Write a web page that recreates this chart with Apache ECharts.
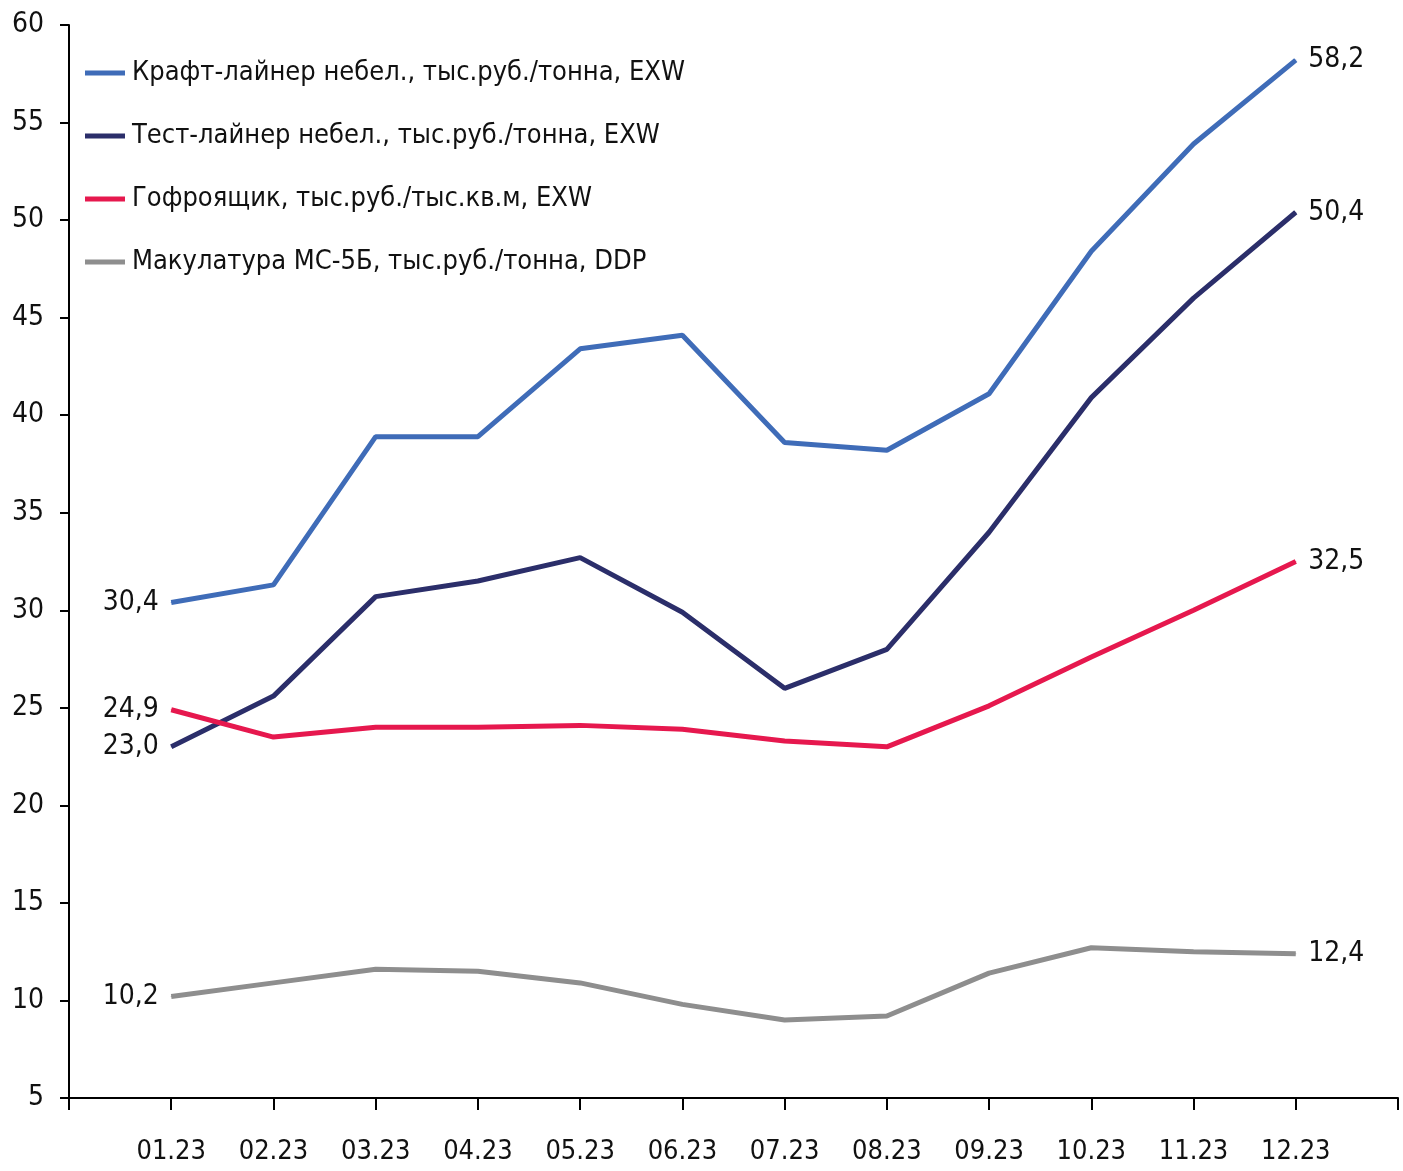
<!DOCTYPE html>
<html lang="ru">
<head>
    <meta charset="UTF-8">
    <title>Цены на тарный картон и макулатуру</title>
    <script src="https://cdn.jsdelivr.net/npm/echarts@6/dist/echarts.min.js"></script>
    <style>
        html, body { margin: 0; padding: 0; background: #fff; }
    </style>
</head>
<body>
<div id="chart" style="width: 1403px;height:1171px;"></div>
<script>
    // месяцы 2023
    var months = ['01.23', '02.23', '03.23', '04.23', '05.23', '06.23', '07.23', '08.23', '09.23', '10.23', '11.23', '12.23'];
    var kraft = [30.4, 31.3, 38.9, 38.9, 43.4, 44.1, 38.6, 38.2, 41.1, 48.4, 53.9, 58.2];
    var testLiner = [23.0, 25.6, 30.7, 31.5, 32.7, 29.9, 26.0, 28.0, 34.0, 40.9, 46.0, 50.4];
    var gofro = [24.9, 23.5, 24.0, 24.0, 24.1, 23.9, 23.3, 23.0, 25.1, 27.6, 30.0, 32.5];
    var makulatura = [10.2, 10.9, 11.6, 11.5, 10.9, 9.8, 9.0, 9.2, 11.4, 12.7, 12.5, 12.4];
    var names = [
        'Крафт-лайнер небел., тыс.руб./тонна, EXW',
        'Тест-лайнер небел., тыс.руб./тонна, EXW',
        'Гофроящик, тыс.руб./тыс.кв.м, EXW',
        'Макулатура МС-5Б, тыс.руб./тонна, DDP'
    ];
    var colors = ['#3f6cb8', '#2b2e6a', '#e6184e', '#8e8e8e'];

    var FONT = "'Liberation Sans Narrow', 'DejaVu Sans Condensed', 'Noto Sans', sans-serif";

    // пустые категории по краям, как в исходной диаграмме
    var cats = [''].concat(months, ['']);

    function fmt(v) {
        return v.toFixed(1).replace('.', ',');
    }

    function makeSeries(idx, values, leftOffset, rightOffset) {
        var data = values.map(function (v, i) {
            var item = {value: [months[i], v]};
            if (i === 0) {
                item.label = {show: true, position: 'left', distance: 12, offset: leftOffset || [0, 0]};
            } else if (i === values.length - 1) {
                item.label = {show: true, position: 'right', distance: 12, offset: rightOffset || [0, 0]};
            }
            return item;
        });
        return {
            name: names[idx],
            type: 'line',
            data: data,
            symbol: 'circle',
            symbolSize: 1,
            showSymbol: true,
            smooth: false,
            lineStyle: {width: 5, color: colors[idx]},
            itemStyle: {color: colors[idx]},
            label: {
                show: false,
                color: '#111',
                fontSize: 28,
                fontFamily: FONT,
                formatter: function (p) { return fmt(p.value[1]); }
            },
            labelLayout: {hideOverlap: false},
            emphasis: {disabled: true}
        };
    }

    var myChart = echarts.init(document.getElementById('chart'));
    myChart.setOption({
        animation: false,
        color: colors,
        grid: {left: 69, right: 5, top: 25, bottom: 73},
        legend: {
            orient: 'vertical',
            left: 80,
            top: 51,
            icon: 'rect',
            itemWidth: 40,
            itemHeight: 5,
            itemGap: 29,
            textStyle: {fontSize: 27, fontFamily: FONT, color: '#111', lineHeight: 34, padding: [0, 0, 0, 2]},
            data: names
        },
        xAxis: {
            type: 'category',
            data: cats,
            boundaryGap: false,
            axisLine: {lineStyle: {color: '#000', width: 2}},
            axisTick: {show: true, interval: 0, length: 12, lineStyle: {color: '#000', width: 2}},
            axisLabel: {interval: 0, margin: 40, fontSize: 27, fontFamily: FONT, color: '#111'},
            splitLine: {show: false}
        },
        yAxis: {
            type: 'value',
            min: 5,
            max: 60,
            interval: 5,
            axisLine: {show: true, lineStyle: {color: '#000', width: 2}},
            axisTick: {show: true, inside: false, length: 9, lineStyle: {color: '#000', width: 2}},
            axisLabel: {margin: 25, fontSize: 28, fontFamily: FONT, color: '#111'},
            splitLine: {show: false}
        },
        series: [
            makeSeries(0, kraft, [0, 2], [0, 5]),
            makeSeries(1, testLiner, [0, 2], [0, 3]),
            makeSeries(2, gofro, [0, 4], [0, 5]),
            makeSeries(3, makulatura, [0, 3], [0, -8])
        ]
    });
</script>
</body>
</html>
